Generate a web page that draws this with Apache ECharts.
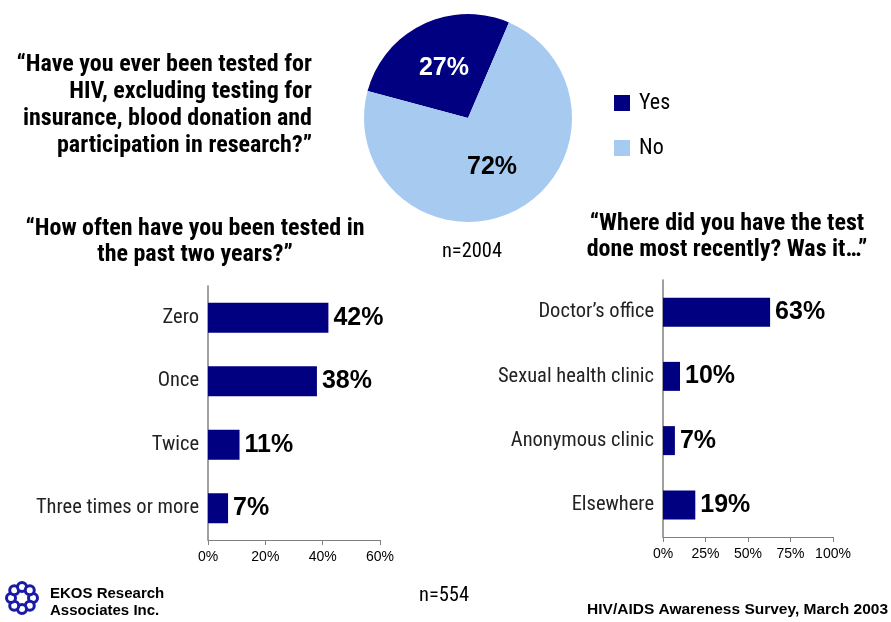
<!DOCTYPE html>
<html><head><meta charset="utf-8">
<script src="https://cdn.jsdelivr.net/npm/echarts@6/dist/echarts.min.js"></script>
<style>html,body{margin:0;padding:0;background:#fff}#c{width:891px;height:622px}</style>
</head><body><div id="c"></div>
<script>
const pieCategories = ['Yes', 'No'];
const pieValues = [27, 72];
const freqCategories = ['Zero', 'Once', 'Twice', 'Three times or more'];
const freqValues = [42, 38, 11, 7];
const placeCategories = ["Doctor’s office", 'Sexual health clinic', 'Anonymous clinic', 'Elsewhere'];
const placeValues = [63, 10, 7, 19];

const NAVY = '#000080', LIGHT = '#a6caf0';
const NARROW = "'Liberation Sans Narrow', 'Arial Narrow', 'Roboto Condensed', sans-serif";
const ARIAL = "'Liberation Sans', Arial, sans-serif";

const chart = echarts.init(document.getElementById('c'));

function barLabel() {
  return { show: true, position: 'right', distance: 5, formatter: '{c}%', color: '#000',
           fontFamily: ARIAL, fontWeight: 'bold', fontSize: 25 };
}
function xAxisCfg(gi, max, interval) {
  return { type: 'value', gridIndex: gi, min: 0, max: max, interval: interval,
    axisLine: { show: true, lineStyle: { color: '#808080', width: 1 } },
    axisTick: { show: true, length: 5, lineStyle: { color: '#808080' } },
    splitLine: { show: false },
    axisLabel: { formatter: '{value}%', fontFamily: ARIAL, fontSize: 14, color: '#000', margin: 10 } };
}
function yAxisCfg(gi, cats) {
  return { type: 'category', gridIndex: gi, data: cats, inverse: true,
    axisLine: { show: true, lineStyle: { color: '#808080', width: 1.5 } },
    axisTick: { show: false },
    axisLabel: { fontFamily: NARROW, fontSize: 20.5, color: '#222', margin: 9 } };
}

// logo ring
const logo = [];
for (let i = 0; i < 8; i++) {
  const a = i / 8 * Math.PI * 2;
  logo.push({ type: 'circle', shape: { cx: 22 + 11 * Math.cos(a), cy: 598 + 11 * Math.sin(a), r: 4.5 },
    style: { fill: '#fff', stroke: '#1a1aa8', lineWidth: 3 } });
}

chart.setOption({
  animation: false,
  color: [NAVY, LIGHT],
  legend: {
    data: pieCategories, orient: 'vertical', left: 609, top: 87, itemWidth: 16, itemHeight: 16,
    itemGap: 23, icon: 'rect', textStyle: { fontFamily: NARROW, fontSize: 22, color: '#000', padding: [0, 0, 0, 4] }
  },
  grid: [
    { left: 208, top: 286, width: 172, height: 254 },
    { left: 663, top: 280, width: 170, height: 257 }
  ],
  xAxis: [xAxisCfg(0, 60, 20), xAxisCfg(1, 100, 25)],
  yAxis: [yAxisCfg(0, freqCategories), yAxisCfg(1, placeCategories)],
  series: [
    { type: 'pie', center: [468, 118], radius: 104, startAngle: 165, clockwise: true,
      data: pieCategories.map((n, i) => ({ name: n, value: pieValues[i],
        label: { color: i === 0 ? '#fff' : '#000' } })),
      label: { show: true, position: 'inside', formatter: '{c}%', fontFamily: ARIAL, fontWeight: 'bold', fontSize: 25 },
      labelLine: { show: false }, emphasis: { disabled: true } },
    { type: 'bar', xAxisIndex: 0, yAxisIndex: 0, data: freqValues, barWidth: 30, itemStyle: { color: NAVY }, label: barLabel() },
    { type: 'bar', xAxisIndex: 1, yAxisIndex: 1, data: placeValues, barWidth: 29, itemStyle: { color: NAVY }, label: barLabel() }
  ],
  graphic: [
    { type: 'text', x: 312, y: 51, style: { text: '“Have you ever been tested for\nHIV, excluding testing for\ninsurance, blood donation and\nparticipation in research?”',
      align: 'right', fontFamily: NARROW, fontWeight: 'bold', fontSize: 24, lineHeight: 27, fill: '#000' } },
    { type: 'text', x: 195, y: 216, style: { text: '“How often have you been tested in\nthe past two years?”',
      align: 'center', fontFamily: NARROW, fontWeight: 'bold', fontSize: 24, lineHeight: 26, fill: '#000' } },
    { type: 'text', x: 727, y: 211, style: { text: '“Where did you have the test\ndone most recently? Was it…”',
      align: 'center', fontFamily: NARROW, fontWeight: 'bold', fontSize: 24, lineHeight: 26, fill: '#000' } },
    { type: 'text', x: 472, y: 252, style: { text: 'n=2004', align: 'center', verticalAlign: 'middle', fontFamily: NARROW, fontSize: 20.5, fill: '#000' } },
    { type: 'text', x: 444, y: 596, style: { text: 'n=554', align: 'center', verticalAlign: 'middle', fontFamily: NARROW, fontSize: 20.5, fill: '#000' } },
    { type: 'text', x: 888, y: 610, style: { text: 'HIV/AIDS Awareness Survey, March 2003', align: 'right', verticalAlign: 'middle', fontFamily: ARIAL, fontWeight: 'bold', fontSize: 15.5, fill: '#000' } },
    { type: 'text', x: 50, y: 585, style: { text: 'EKOS Research\nAssociates Inc.', align: 'left', verticalAlign: 'top', fontFamily: ARIAL, fontWeight: 'bold', fontSize: 15, lineHeight: 17, fill: '#000' } }
  ].concat(logo)
});
</script></body></html>
